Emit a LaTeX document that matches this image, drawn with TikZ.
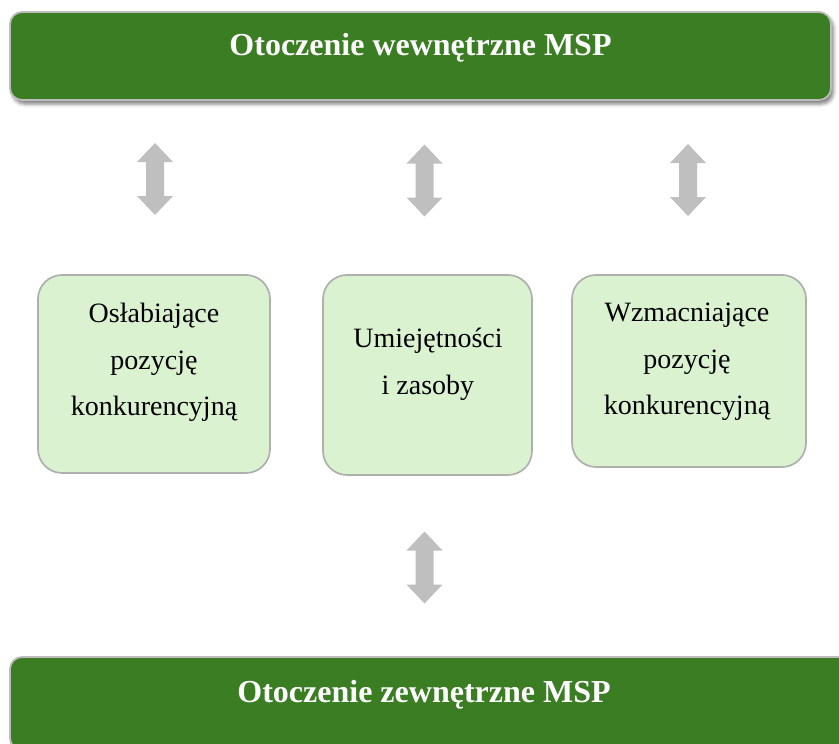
\documentclass[tikz,border=0pt]{standalone}
\usepackage{fontspec}
\setmainfont{Liberation Serif}
\usetikzlibrary{shadows.blur}

\definecolor{bargreen}{RGB}{59,125,35}
\definecolor{boxgreen}{RGB}{218,242,208}
\definecolor{arrowgray}{RGB}{191,191,191}
\definecolor{edgegray}{RGB}{175,175,175}
\definecolor{baredge}{RGB}{188,188,188}

\tikzset{
  bar/.style={rectangle, rounded corners=12pt, fill=bargreen, draw=baredge,
    line width=1.8pt, inner sep=0pt,
    blur shadow={shadow xshift=2.5pt, shadow yshift=-4pt,
      shadow blur radius=3.5pt, shadow opacity=50}},
  bartext/.style={text=white, inner sep=0pt, anchor=base,
    font=\fontsize{32}{38}\selectfont\bfseries},
  factor/.style={rectangle, rounded corners=24pt, fill=boxgreen, draw=edgegray,
    line width=1.7pt, inner sep=0pt},
  factortext/.style={inner sep=0pt, anchor=north, align=center,
    font=\fontsize{28}{46.5}\selectfont},
  % vertical two-headed block arrow, 72pt long, 36pt wide heads, 18pt shaft
  link/.pic={
    \fill[arrowgray] (0,-36) -- (18,-17) -- (9,-17) -- (9,17) -- (18,17)
      -- (0,36) -- (-18,17) -- (-9,17) -- (-9,-17) -- (-18,-17) -- cycle;
  }
}

\begin{document}
\begin{tikzpicture}[x=1pt, y=-1pt]
  \useasboundingbox (0,0) rectangle (839,744);

  % internal and external environment bars
  \node (inner) [bar, minimum width=821pt, minimum height=88pt] at (420.5,56) {};
  \node (innertext) [bartext] at (420.5,56) {Otoczenie wewnętrzne MSP};

  \node (outer) [bar, minimum width=840pt, minimum height=93pt] at (430,703.5) {};
  \node (outertext) [bartext] at (424,702) {Otoczenie zewnętrzne MSP};

  % the three factor boxes
  \node (weak) [factor, minimum width=232pt, minimum height=198pt] at (154,374) {};
  \node (skills) [factor, minimum width=209pt, minimum height=200pt] at (427.5,375) {};
  \node (strong) [factor, minimum width=234pt, minimum height=192pt] at (689,371) {};

  \node (weaktext) [factortext] at (154,303) {Osłabiające\\pozycję\\konkurencyjną};
  \node (skillstext) [factortext] at (428,328) {Umiejętności\\i zasoby};
  \node (strongtext) [factortext] at (687,303) {Wzmacniające\\pozycję\\konkurencyjną};

  % two-way links between the levels
  \pic (linkweak) at (155,179) {link};
  \pic (linkskills) at (424.5,180.5) {link};
  \pic (linkstrong) at (688,180) {link};
  \pic (linkouter) at (424.5,567.5) {link};
\end{tikzpicture}
\end{document}
